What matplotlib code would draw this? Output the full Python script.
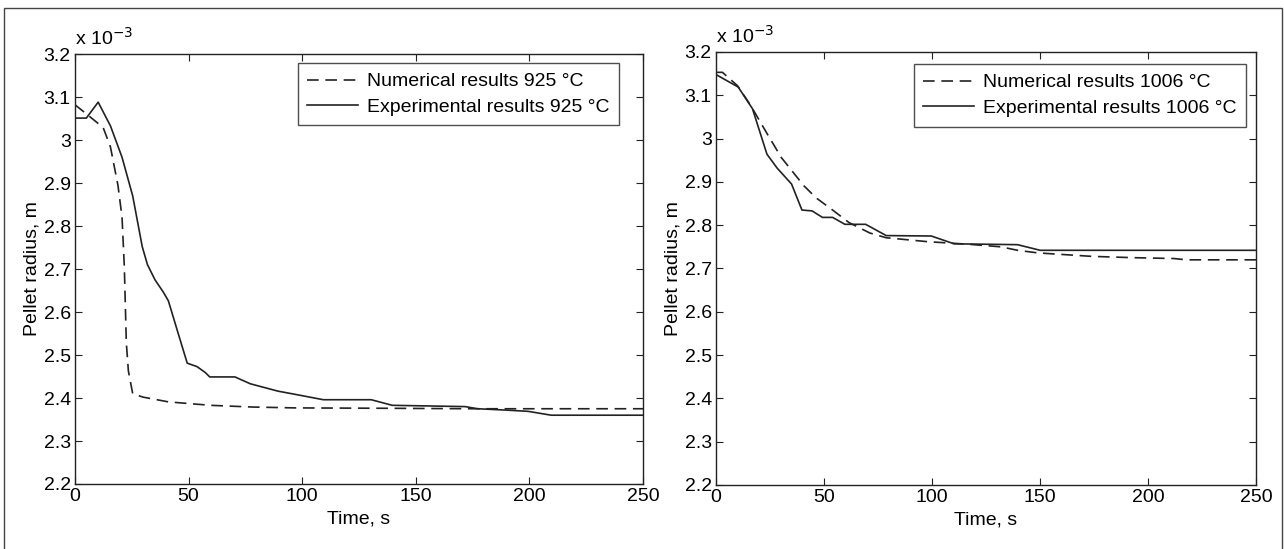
import matplotlib.pyplot as plt
from matplotlib.patches import Rectangle

plt.rcParams['font.family'] = ['Liberation Sans', 'DejaVu Sans']

# Pellet radius values are in units of 1e-3 m
# 925 C
t_num_925 = [0, 5.9, 12.4, 15.6, 18.9, 20.7, 21.7, 22.6, 23.5, 25.4, 30, 41.1,
             59.6, 78.1, 96.7, 140, 175, 250]
r_num_925 = [3.082, 3.057, 3.029, 2.984, 2.895, 2.821, 2.707, 2.528, 2.463,
             2.41, 2.402, 2.391, 2.383, 2.379, 2.377, 2.376, 2.375, 2.375]
t_exp_925 = [0, 5, 10.2, 15.6, 20.7, 25.4, 29.6, 31.9, 35.2, 38.9, 41.1, 44.8,
             49.4, 53.7, 57.4, 59.3, 70.4, 77.2, 89.3, 99.4, 109.3, 130.4,
             139.6, 171.7, 177.2, 189.3, 199.4, 209.6, 250]
r_exp_925 = [3.051, 3.051, 3.088, 3.033, 2.96, 2.87, 2.752, 2.71, 2.675, 2.646,
             2.626, 2.561, 2.481, 2.473, 2.459, 2.449, 2.449, 2.433, 2.416,
             2.406, 2.396, 2.396, 2.383, 2.38, 2.375, 2.372, 2.369, 2.36, 2.36]

# 1006 C
t_num_1006 = [0, 3, 10, 16, 23.6, 30.3, 40.7, 46.4, 54, 61.6, 71.2, 78.8, 97.8,
              116.8, 132, 139.6, 149, 174, 193, 212, 217.7, 250]
r_num_1006 = [3.153, 3.153, 3.122, 3.077, 3.012, 2.956, 2.891, 2.863, 2.835,
              2.806, 2.782, 2.771, 2.762, 2.756, 2.75, 2.742, 2.736, 2.728,
              2.725, 2.723, 2.72, 2.72]
t_exp_1006 = [0, 10.3, 16.9, 23.6, 28.3, 35, 39.8, 44.5, 49.3, 54, 59.7, 69.3,
              78.8, 99.7, 110.2, 139.6, 150.1, 250]
r_exp_1006 = [3.148, 3.119, 3.069, 2.964, 2.932, 2.895, 2.835, 2.833, 2.818,
              2.818, 2.802, 2.802, 2.776, 2.775, 2.757, 2.755, 2.742, 2.742]

x_ticks = [0, 50, 100, 150, 200, 250]
y_ticks = [2.2, 2.3, 2.4, 2.5, 2.6, 2.7, 2.8, 2.9, 3.0, 3.1, 3.2]
y_labels = ['2.2', '2.3', '2.4', '2.5', '2.6', '2.7', '2.8', '2.9', '3', '3.1', '3.2']

fig = plt.figure(figsize=(12.84, 5.49), dpi=100)
# outer frame (bottom edge falls outside the picture, as in the scan)
fig.patches.append(Rectangle((4 / 1284, -0.05), 1278 / 1284, 1.05 - 8 / 549,
                             transform=fig.transFigure, fill=False,
                             edgecolor='#444444', linewidth=1.0))

panels = [
    ([0.0584, 0.1184, 0.4424, 0.7832], t_num_925, r_num_925, t_exp_925, r_exp_925,
     '925', (0.9577, 0.979)),
    ([0.5576, 0.1166, 0.4206, 0.7887], t_num_1006, r_num_1006, t_exp_1006, r_exp_1006,
     '1006', (0.9815, 0.972)),
]

for rect, tn, rn, te, re_, temp, anchor in panels:
    ax = fig.add_axes(rect)
    ax.plot(tn, rn, color='#222222', linewidth=1.2, dashes=(7, 4),
            label=f'Numerical results {temp} °C')
    ax.plot(te, re_, color='#222222', linewidth=1.2,
            label=f'Experimental results {temp} °C')
    ax.set_xlim(0, 250)
    ax.set_ylim(2.2, 3.2)
    ax.set_xticks(x_ticks)
    ax.set_yticks(y_ticks)
    ax.set_yticklabels(y_labels)
    ax.tick_params(direction='in', top=True, right=True, length=5,
                   labelsize=14, pad=3, color='#222222')
    for s in ax.spines.values():
        s.set_linewidth(1.0)
        s.set_color('#222222')
    ax.set_xlabel('Time, s', fontsize=14, labelpad=4)
    ax.set_ylabel('Pellet radius, m', fontsize=14, labelpad=2)
    ax.text(0.0, 1.012, r'x 10$^{-3}$', transform=ax.transAxes, fontsize=14,
            ha='left', va='bottom')
    leg = ax.legend(loc='upper right', bbox_to_anchor=anchor, borderaxespad=0,
                    fontsize=14, frameon=True, fancybox=False, handlelength=2.6,
                    labelspacing=0.4, borderpad=0.5, handletextpad=0.45)
    leg.get_frame().set_edgecolor('#222222')
    leg.get_frame().set_linewidth(1.0)

fig.savefig('out.png', dpi=100)
